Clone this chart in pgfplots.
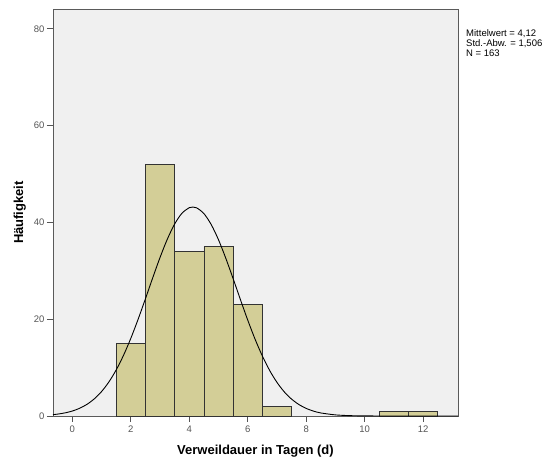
\documentclass[border=0pt]{standalone}
\usepackage{pgfplots}
\pgfplotsset{compat=1.18}
\usepackage{fontspec}
\setmainfont{Liberation Sans}
\definecolor{barfill}{RGB}{211,206,151}
\definecolor{bgc}{RGB}{240,240,240}
\definecolor{framec}{RGB}{90,90,90}
\definecolor{tickc}{RGB}{85,85,85}
\begin{document}
\begin{tikzpicture}
\begin{axis}[
  scale only axis,
  width=405pt, height=407pt,
  xmin=-0.66, xmax=13.19,
  ymin=0, ymax=84.1,
  axis background/.style={fill=bgc},
  axis line style={framec, line width=0.8pt},
  xtick={0,2,4,6,8,10,12},
  ytick={0,20,40,60,80},
  tick align=outside,
  xtick pos=bottom, ytick pos=left,
  major tick length=6pt,
  tick style={tickc, line width=0.8pt},
  ticklabel style={font=\fontsize{9.5}{10}\selectfont, text=tickc},
  yticklabel style={xshift=1pt},
  /pgf/number format/assume math mode=true,
  xlabel={\textbf{Verweildauer in Tagen (d)}},
  ylabel={\textbf{Häufigkeit}},
  label style={font=\fontsize{13}{14}\selectfont},
  xlabel style={at={(axis description cs:0.5,-0.0958)}, anchor=base},
  ylabel style={at={(axis description cs:-0.074,0.5)}, anchor=base},
  clip=false,
]
\addplot[ybar, bar width=1, bar shift=0pt, fill=barfill, draw=black!80, line width=0.7pt]
  coordinates {(2,15) (3,52) (4,34) (5,35) (6,23) (7,2) (11,1) (12,1)};
\addplot[black, line width=0.9pt, smooth, mark=none] coordinates {
(-0.66,0.280) (-0.5,0.391) (-0.25,0.641) (0,1.024) (0.25,1.590) (0.5,2.403)
(0.75,3.530) (1,5.049) (1.25,7.024) (1.5,9.509) (1.75,12.52) (2,16.03)
(2.25,19.98) (2.5,24.21) (2.75,28.55) (3,32.75) (3.25,36.54) (3.5,39.67)
(3.75,41.90) (4,43.04) (4.12,43.18) (4.25,43.02) (4.5,41.83) (4.75,39.56)
(5,36.41) (5.25,32.58) (5.5,28.38) (5.75,24.04) (6,19.81) (6.25,15.88)
(6.5,12.39) (6.75,9.40) (7,6.94) (7.25,4.98) (7.5,3.48) (7.75,2.365)
(8,1.563) (8.25,1.005) (8.5,0.629) (9,0.2266) (9.5,0.0731) (10,0.0212)
(10.5,0.005) (11,0.001) (12,0) (13,0) (13.19,0)};
\end{axis}
\node[anchor=north west, align=left, font=\fontsize{9.5}{10}\selectfont, inner sep=0pt]
  at ([xshift=8pt, yshift=-20pt]current axis.north east)
  {Mittelwert = 4,12\\Std.-Abw. = 1,506\\N = 163};
\useasboundingbox ([xshift=-53pt, yshift=-43pt]current axis.south west)
  rectangle ([xshift=93pt, yshift=9pt]current axis.north east);
\end{tikzpicture}
\end{document}
